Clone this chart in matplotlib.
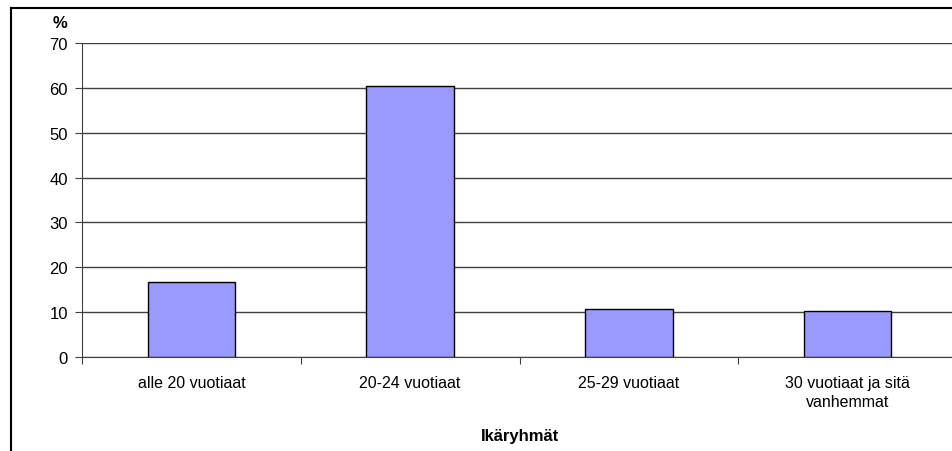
import matplotlib
matplotlib.use("Agg")
import matplotlib.pyplot as plt
from matplotlib.lines import Line2D
import numpy as np

categories = ["alle 20 vuotiaat", "20-24 vuotiaat", "25-29 vuotiaat", "30 vuotiaat ja sitä\nvanhemmat"]
values = [16.7, 60.5, 10.7, 10.2]
yticks = [0, 10, 20, 30, 40, 50, 60, 70]

plt.rcParams['font.family'] = ['Liberation Sans', 'DejaVu Sans']

W, H = 953, 452
fig = plt.figure(figsize=(W / 100, H / 100), dpi=100)
fig.patch.set_facecolor("white")

# plot area in pixel terms
left, right, top, bottom = 82, 957, 44, 358
ax = fig.add_axes([left / W, (H - bottom) / H, (right - left) / W, (bottom - top) / H])

x = np.arange(len(categories))
ax.bar(x, values, width=0.40, color="#9999FF", edgecolor="black", linewidth=1.0, zorder=3)

ax.set_xlim(-0.5, len(categories) - 0.5)
ax.set_ylim(0, 70)
ax.set_yticks(yticks)
ax.set_yticklabels([str(t) for t in yticks], fontsize=12)
ax.yaxis.grid(True, color="#404040", linewidth=1.0, zorder=0)
ax.set_axisbelow(True)

# category labels centred under the bars, ticks at the boundaries
ax.set_xticks(x)
ax.set_xticklabels(categories, fontsize=11.5, linespacing=1.3)
ax.tick_params(axis="x", length=0, pad=13)
ax.set_xticks(np.arange(len(categories) + 1) - 0.5, minor=True)
ax.tick_params(axis="x", which="minor", length=5, width=0.8, color="#404040")
ax.tick_params(axis="y", length=5, width=0.8, color="#404040", pad=5)

for side in ["top", "right"]:
    ax.spines[side].set_visible(False)
ax.spines["left"].set_color("#404040")
ax.spines["bottom"].set_color("#404040")

fig.text(60 / W, 1 - 23 / H, "%", fontsize=12, fontweight="bold", ha="center", va="center")
fig.text(520 / W, 1 - 437 / H, "Ikäryhmät", fontsize=12,
         fontweight="bold", ha="center", va="center")

# outer frame of the chart area
fig.add_artist(Line2D([11 / W, 11 / W], [0, 1 - 8.5 / H], color="black", linewidth=1.5,
                      transform=fig.transFigure))
fig.add_artist(Line2D([11 / W, 1], [1 - 8.5 / H, 1 - 8.5 / H], color="black", linewidth=1.5,
                      transform=fig.transFigure))

fig.savefig("out.png", dpi=100)
